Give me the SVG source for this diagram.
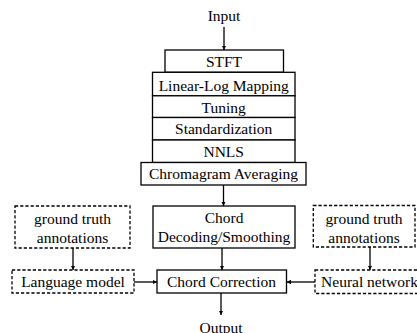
<svg xmlns="http://www.w3.org/2000/svg" width="417" height="333" viewBox="0 0 417 333">
<style>
.b{fill:#fff;stroke:#000;stroke-width:1.3}
.d{fill:#fff;stroke:#000;stroke-width:1.3;stroke-dasharray:3.2,2}
text{font-size:15.5px;fill:#000;text-anchor:middle}
.c line{stroke:#000;stroke-width:1.3}
</style>
<defs>
<marker id="a" viewBox="0 0 10 10" refX="10" refY="5" markerWidth="4.5" markerHeight="4.5" orient="auto" markerUnits="userSpaceOnUse">
<path d="M0,0 L10,5 L0,10 z" fill="#000"/>
</marker>
</defs>
<rect width="417" height="333" fill="#fff"/>
<g class="c">
<line x1="224" y1="27" x2="224" y2="50" marker-end="url(#a)"/>
<line x1="223.5" y1="185" x2="223.5" y2="206" marker-end="url(#a)"/>
<line x1="222" y1="248" x2="222" y2="270" marker-end="url(#a)"/>
<line x1="221" y1="293" x2="221" y2="315" marker-end="url(#a)"/>
<line x1="73" y1="248" x2="73" y2="270" marker-end="url(#a)"/>
<line x1="370" y1="247" x2="370" y2="270" marker-end="url(#a)"/>
<line x1="134" y1="282" x2="157" y2="282" marker-end="url(#a)"/>
<line x1="315" y1="282" x2="286.5" y2="282" marker-end="url(#a)"/>
</g>
<g font-family="Liberation Serif, serif">
<g id="input"><text x="224" y="20.5">Input</text></g>
<g id="stft"><rect class="b" x="165" y="50" width="118.5" height="22.3"/><text x="224" y="66.5">STFT</text></g>
<g id="linlog"><rect class="b" x="152.5" y="72.3" width="142.5" height="23.5"/><text x="223.7" y="90.5">Linear-Log Mapping</text></g>
<g id="tuning"><rect class="b" x="152.5" y="95.8" width="142.5" height="21.7"/><text x="223.7" y="112.5">Tuning</text></g>
<g id="std"><rect class="b" x="152.5" y="117.5" width="142.5" height="22.5"/><text x="223.7" y="134">Standardization</text></g>
<g id="nnls"><rect class="b" x="152.5" y="140" width="142.5" height="22.5"/><text x="223.7" y="156.5">NNLS</text></g>
<g id="chroma"><rect class="b" x="141" y="162.5" width="165" height="22.5"/><text x="223.5" y="179">Chromagram Averaging</text></g>
<g id="decoding"><rect class="b" x="153" y="206" width="142" height="42"/><text x="224" y="223">Chord</text><text x="224" y="241.7">Decoding/Smoothing</text></g>
<g id="correction"><rect class="b" x="157" y="270" width="129.5" height="23"/><text x="221.5" y="286.7">Chord Correction</text></g>
<g id="gt1"><rect class="d" x="15" y="206" width="115" height="42"/><text x="72.5" y="224.3">ground truth</text><text x="72.5" y="242.7">annotations</text></g>
<g id="lm"><rect class="d" x="12" y="270" width="122" height="23"/><text x="73" y="286.7">Language model</text></g>
<g id="gt2"><rect class="d" x="313.3" y="205.5" width="101.7" height="41.5"/><text x="364" y="224.3">ground truth</text><text x="364" y="242.7">annotations</text></g>
<g id="nn"><rect class="d" x="315" y="270" width="110" height="23.5"/><text x="369.5" y="286.7">Neural network</text></g>
<g id="output"><text x="221" y="332.5">Output</text></g>
</g>
</svg>
